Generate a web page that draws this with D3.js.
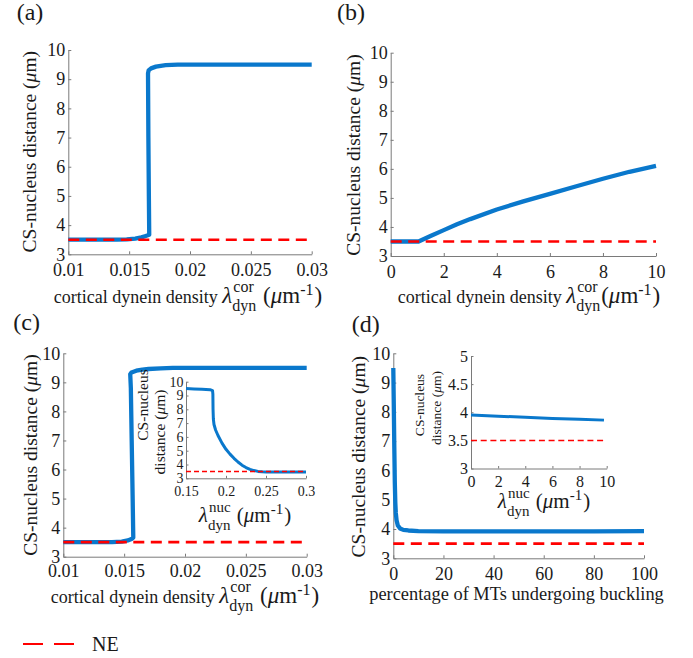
<!DOCTYPE html>
<html><head><meta charset="utf-8">
<script src="https://cdn.jsdelivr.net/npm/d3@7"></script>
<style>
body{margin:0;background:#fff}
svg text{font-family:"Liberation Serif","Times New Roman",serif !important;fill:#1a1a1a;white-space:pre}
</style>
</head><body>
<svg id="chart" width="693" height="658"></svg>
<script>
// ---------- data ----------
const neValue = 3.5;

const aX = [0.01,0.012,0.014,0.0148,0.0155,0.016,0.0163,0.01665,0.01662,0.01658,0.01655,0.0166,0.0168,0.0172,0.0176,0.018,0.019,0.02,0.025,0.03];
const aY = [3.5,3.5,3.5,3.51,3.54,3.58,3.62,3.67,5.0,7.0,9.2,9.3,9.37,9.43,9.46,9.48,9.5,9.5,9.5,9.5];

const bX = [0,0.5,1.05,1.5,2,2.5,3,4,5,6,7,8,9,10];
const bY = [3.5,3.5,3.5,3.69,3.89,4.09,4.27,4.6,4.88,5.14,5.4,5.66,5.9,6.1];

const cX = [0.01,0.012,0.014,0.0148,0.0153,0.0156,0.01575,0.0157,0.01562,0.01555,0.0155,0.0156,0.016,0.0165,0.017,0.018,0.019,0.02,0.025,0.03];
const cY = [3.5,3.5,3.5,3.52,3.56,3.61,3.66,5.0,7.0,8.8,9.28,9.34,9.4,9.44,9.46,9.48,9.5,9.5,9.5,9.5];

const cInX = [0.15,0.16,0.17,0.18,0.1832,0.1836,0.1838,0.1842,0.185,0.187,0.19,0.195,0.2,0.205,0.21,0.215,0.22,0.225,0.23,0.235,0.24,0.245,0.25,0.26,0.28,0.3];
const cInY = [9.5,9.48,9.46,9.42,9.35,9.1,8.0,7.3,6.9,6.5,6.1,5.55,5.1,4.75,4.45,4.18,3.95,3.78,3.65,3.56,3.5,3.47,3.46,3.45,3.45,3.45];

const dX = [0,0.2,0.4,0.6,0.8,1.0,1.3,1.8,2.7,4,6,10,20,50,80,100];
const dY = [9.5,8.2,6.8,5.6,4.9,4.55,4.3,4.12,4.02,3.97,3.95,3.93,3.92,3.92,3.92,3.93];

const dInX = [0,2,4,6,8,9.8];
const dInY = [3.95,3.93,3.91,3.89,3.875,3.86];

// ticks
const yTicksMain = [3,4,5,6,7,8,9,10];
const yTickLabelsMain = ["3","4","5","6","7","8","9","10"];
const acXTicks = [0.01,0.015,0.02,0.025,0.03];
const acXTickLabels = ["0.01","0.015","0.02","0.025","0.03"];
const bXTicks = [0,2,4,6,8,10];
const bXTickLabels = ["0","2","4","6","8","10"];
const dXTicks = [0,20,40,60,80,100];
const dXTickLabels = ["0","20","40","60","80","100"];
const cInXTicks = [0.15,0.2,0.25,0.3];
const cInXTickLabels = ["0.15","0.2","0.25","0.3"];
const dInXTicks = [0,2,4,6,8,10];
const dInXTickLabels = ["0","2","4","6","8","10"];
const dInYTicks = [3,3.5,4,4.5,5];
const dInYTickLabels = ["3","3.5","4","4.5","5"];

// ---------- drawing ----------
const FONT = '"Liberation Serif","Times New Roman",serif';
const svg = d3.select("#chart");
const BLUE = "#0a78cc", RED = "#ff0000", AXIS = "#7a7a7a";

function panel(c){
  const x = d3.scaleLinear().domain(c.xDomain).range([c.left,c.right]);
  const y = d3.scaleLinear().domain(c.yDomain).range([c.bottom,c.top]);
  const g = svg.append("g");
  if(c.bg) g.append("rect").attr("x",c.left).attr("y",c.top).attr("width",c.right-c.left).attr("height",c.bottom-c.top).attr("fill","#fff");
  const xa = d3.axisBottom(x).tickValues(c.xTicks).tickFormat((d,i)=>c.xTickLabels[i])
      .tickSizeInner(-c.tick).tickSizeOuter(0).tickPadding(c.xPad);
  const ya = d3.axisLeft(y).tickValues(c.yTicks).tickFormat((d,i)=>c.yTickLabels[i])
      .tickSizeInner(-c.tick).tickSizeOuter(0).tickPadding(c.yPad);
  const gx = g.append("g").attr("transform",`translate(0,${c.bottom})`).call(xa);
  const gy = g.append("g").attr("transform",`translate(${c.left},0)`).call(ya);
  [gx,gy].forEach(a=>{
    a.attr("font-family",FONT);
    a.select(".domain").attr("stroke",AXIS).attr("stroke-width",1);
    a.selectAll(".tick line").attr("stroke",AXIS).attr("stroke-width",1);
    a.selectAll(".tick text").attr("font-size",c.tickFs).attr("fill","#1a1a1a");
  });
  const line = d3.line().x(d=>x(d[0])).y(d=>y(d[1]));
  const pts = c.xs.map((v,i)=>[v,c.ys[i]]);
  g.append("path").attr("d",line(pts)).attr("fill","none").attr("stroke",BLUE)
    .attr("stroke-width",c.lw).attr("stroke-linejoin","round");
  g.append("path").attr("d",line([[c.xDomain[0],neValue],[c.xDomain[1],neValue]]))
    .attr("fill","none").attr("stroke",RED).attr("stroke-width",c.dw).attr("stroke-dasharray",c.dash);
  return g;
}

// parts: {t, fs, i} text runs; {sup, sub, fs, up, down, dx} scripts
function mathLabel(cx, base, parts){
  const g = svg.append("g");
  let cur = 0;
  parts.forEach(p=>{
    if(p.t!==undefined){
      const t = g.append("text").attr("x",cur).attr("y",0).attr("font-size",p.fs)
        .attr("font-style",p.i?"italic":null).style("font-family",FONT).text(p.t);
      cur += t.node().getComputedTextLength();
    } else {
      let w = 0;
      if(p.sup!==undefined){
        const t = g.append("text").attr("x",cur+(p.dx||0)).attr("y",-p.up).attr("font-size",p.fs).style("font-family",FONT).text(p.sup);
        w = Math.max(w,t.node().getComputedTextLength()+(p.dx||0));
      }
      if(p.sub!==undefined){
        const t = g.append("text").attr("x",cur).attr("y",p.down).attr("font-size",p.fs).style("font-family",FONT).text(p.sub);
        w = Math.max(w,t.node().getComputedTextLength());
      }
      cur += w + 1;
    }
  });
  g.attr("transform",`translate(${cx-cur/2},${base})`);
}

function yLabel(cx, cy, fs, pre, post){
  const t = svg.append("text").attr("transform",`translate(${cx},${cy}) rotate(-90)`)
    .attr("text-anchor","middle").attr("dy","0.33em").attr("font-size",fs).style("font-family",FONT);
  t.append("tspan").text(pre);
  if(post!==undefined){
    t.append("tspan").attr("font-style","italic").text("\u03bc");
    t.append("tspan").text(post);
  }
}

function panelLabel(x, y, s){
  svg.append("text").attr("x",x).attr("y",y).attr("font-size",24).style("font-family",FONT).text(s);
}

const mainCommon = {yDomain:[3,10], yTicks:yTicksMain, yTickLabels:yTickLabelsMain,
  tick:3, xPad:9.3, yPad:3, tickFs:18, lw:4.3, dw:2.6, dash:"11,6.5"};

// (a)
panel(Object.assign({}, mainCommon, {left:68.3,right:311.7,top:50,bottom:254.3,
  xDomain:[0.01,0.03], xTicks:acXTicks, xTickLabels:acXTickLabels, xs:aX, ys:aY}));
// (b)
panel(Object.assign({}, mainCommon, {left:390.7,right:656,top:52.7,bottom:256,
  xDomain:[0,10], xTicks:bXTicks, xTickLabels:bXTickLabels, xs:bX, ys:bY}));
// (c)
panel(Object.assign({}, mainCommon, {left:63.3,right:306.7,top:353.3,bottom:556.7, xPad:7.5,
  xDomain:[0.01,0.03], xTicks:acXTicks, xTickLabels:acXTickLabels, xs:cX, ys:cY}));
// (d)
panel(Object.assign({}, mainCommon, {left:393.3,right:644,top:353.3,bottom:558.3, xPad:8.9,
  xDomain:[0,100], xTicks:dXTicks, xTickLabels:dXTickLabels, xs:dX, ys:dY}));

// inset (c)
panel({left:186,right:306,top:381.7,bottom:478.3, bg:true,
  xDomain:[0.15,0.3], yDomain:[3,10], xTicks:cInXTicks, xTickLabels:cInXTickLabels,
  yTicks:yTicksMain, yTickLabels:yTickLabelsMain, tick:2.5, xPad:8, yPad:2.5, tickFs:14,
  lw:3, dw:1.5, dash:"5,3", xs:cInX, ys:cInY});
// inset (d)
panel({left:471,right:606.7,top:356,bottom:468.5, bg:true,
  xDomain:[0,10], yDomain:[3,5], xTicks:dInXTicks, xTickLabels:dInXTickLabels,
  yTicks:dInYTicks, yTickLabels:dInYTickLabels, tick:2.5, xPad:7, yPad:3, tickFs:16,
  lw:3, dw:1.5, dash:"6,3.7", xs:dInX, ys:dInY});

// panel letters
panelLabel(16.7,20,"(a)");
panelLabel(337,20,"(b)");
panelLabel(13.3,330,"(c)");
panelLabel(351.7,332,"(d)");

// y labels
yLabel(30,151.7,19.5,"CS-nucleus distance (","m)");
yLabel(353.3,155,19.5,"CS-nucleus distance (","m)");
yLabel(30.7,455,19.5,"CS-nucleus distance (","m)");
yLabel(359,456.7,19.5,"CS-nucleus distance (","m)");

// inset y labels (two lines)
yLabel(143,405,15.5,"CS-nucleus");
yLabel(160,432,15.5,"distance (","m)");
yLabel(420,405,13.5,"CS-nucleus");
yLabel(436.5,408,13.5,"distance (","m)");

// x labels
const lam = "\u03bb", mu = "\u03bc";
function lamUnits(tf, mf, sf, sup, space){
  return [
    {t:lam,i:true,fs:mf},
    {sup:sup,sub:"dyn",fs:sf,up:mf*0.5,down:mf*0.36,dx:1},
    {t:space?" (":"(",fs:mf},{t:mu,i:true,fs:mf},{t:"m",fs:mf},
    {sup:"-1",fs:sf,up:mf*0.36},{t:")",fs:mf}
  ];
}
mathLabel(188,303,[{t:"cortical dynein density ",fs:18}].concat(lamUnits(18,23,16,"cor",true)));
mathLabel(529,303,[{t:"cortical dynein density ",fs:18}].concat(lamUnits(18,23,16,"cor",false)));
mathLabel(185,603,[{t:"cortical dynein density ",fs:18}].concat(lamUnits(18,23,16,"cor",true)));
mathLabel(516.5,600,[{t:"percentage of MTs undergoing buckling",fs:18.4}]);
mathLabel(245,522,lamUnits(18,21,15,"nuc",true));
mathLabel(544,508,lamUnits(18,21,15,"nuc",true));

// legend
svg.append("line").attr("x1",23).attr("x2",75).attr("y1",644).attr("y2",644)
  .attr("stroke",RED).attr("stroke-width",2).attr("stroke-dasharray","20,11");
svg.append("text").attr("x",92).attr("y",651).attr("font-size",20).style("font-family",FONT).text("NE");
</script>
</body></html>
